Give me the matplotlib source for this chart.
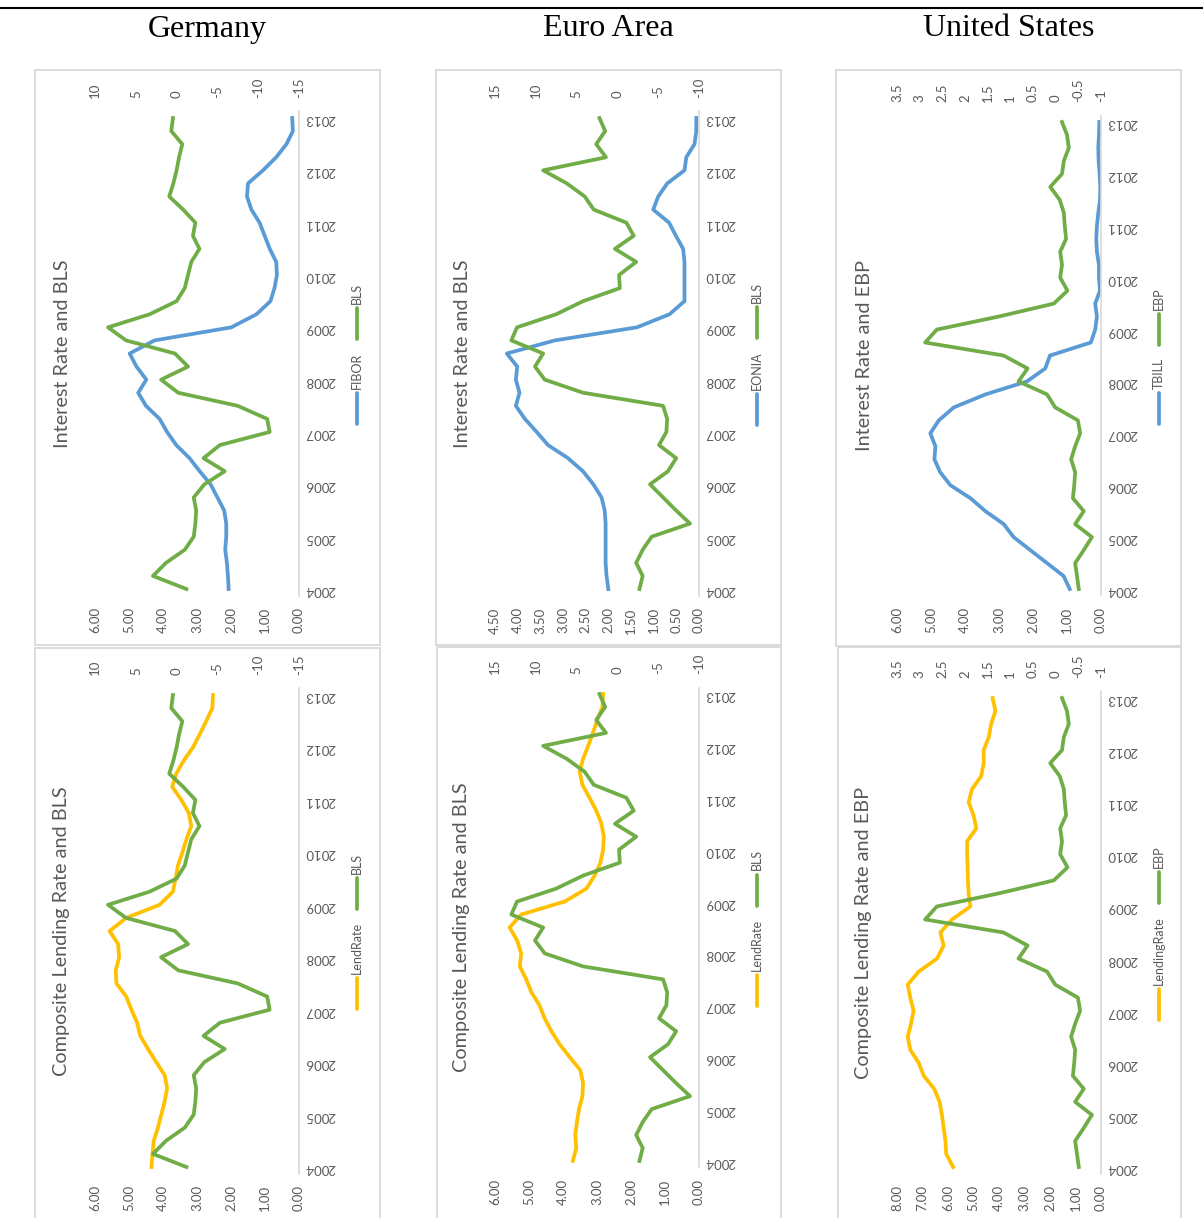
import matplotlib
matplotlib.use('Agg')
import numpy as np
import matplotlib.pyplot as plt
from matplotlib.lines import Line2D
from matplotlib.patches import Rectangle

# quarterly observations, 2004Q1 .. 2013Q1
quarters = list(range(37))
year_ticks = list(range(0, 37, 4))
year_labels = [str(y) for y in range(2004, 2014)]

# Germany
fibor = [2.07, 2.09, 2.12, 2.17, 2.14, 2.14, 2.20, 2.40, 2.60, 2.92, 3.22, 3.61, 3.88,
         4.10, 4.50, 4.73, 4.49, 4.78, 4.98, 4.25, 1.99, 1.25, 0.84, 0.72, 0.65, 0.67,
         0.86, 1.01, 1.16, 1.40, 1.53, 1.50, 1.06, 0.67, 0.37, 0.18, 0.20]
de_bls = [-1.2, 2.9, 1.3, -1.0, -2.1, -2.3, -2.4, -2.1, -3.4, -5.9, -3.3, -5.3, -11.4,
          -11.1, -7.5, -0.2, 1.9, -1.4, 0.2, 6.2, 8.4, 3.3, 0.0, -1.0, -1.4, -1.8,
          -2.8, -2.0, -2.3, -0.8, 0.9, 0.4, 0.0, -0.3, -0.7, 0.65, 0.45]
de_lend = [4.34, 4.31, 4.27, 4.15, 4.05, 3.95, 3.88, 3.95, 4.20, 4.44, 4.67, 4.76, 4.93,
           5.08, 5.37, 5.39, 5.29, 5.32, 5.57, 5.08, 4.10, 3.71, 3.63, 3.56, 3.43, 3.31,
           3.17, 3.24, 3.46, 3.73, 3.61, 3.39, 3.12, 2.92, 2.73, 2.55, 2.53]

# Euro Area
eonia = [2.00, 2.04, 2.06, 2.06, 2.06, 2.06, 2.08, 2.15, 2.33, 2.56, 2.89, 3.33, 3.58,
         3.84, 4.04, 3.96, 4.04, 4.01, 4.24, 3.18, 1.37, 0.65, 0.32, 0.32, 0.32, 0.32,
         0.35, 0.51, 0.66, 1.01, 0.90, 0.70, 0.32, 0.28, 0.10, 0.06, 0.06]
ea_bls = [-2.7, -3.1, -2.3, -3.1, -4.2, -8.9, -7.2, -5.6, -4.0, -6.2, -7.2, -5.1, -6.0,
          -6.1, -5.6, 4.2, 8.9, 10.1, 9.1, 13.0, 12.3, 7.5, 4.2, -0.3, -0.2, -2.3,
          0.3, -2.0, -1.1, 2.9, 4.0, 6.2, 9.1, 1.4, 2.6, 1.5, 2.2]
ea_lend = [3.71, 3.61, 3.64, 3.59, 3.53, 3.43, 3.41, 3.49, 3.80, 4.10, 4.34, 4.54, 4.69,
           4.93, 5.08, 5.27, 5.23, 5.35, 5.57, 5.23, 3.95, 3.31, 3.07, 2.90, 2.82, 2.80,
           2.87, 3.02, 3.22, 3.43, 3.51, 3.41, 3.26, 3.12, 2.99, 2.84, 2.82]

# United States
tbill = [0.92, 1.10, 1.59, 2.08, 2.57, 2.86, 3.40, 3.84, 4.43, 4.73, 4.90, 4.87, 5.02,
         4.77, 4.33, 3.40, 2.18, 1.64, 1.50, 0.30, 0.17, 0.12, 0.17, 0.03, 0.06, 0.06,
         0.12, 0.14, 0.12, 0.08, 0.03, 0.02, 0.04, 0.07, 0.08, 0.06, 0.05]
ebp = [-0.51, -0.47, -0.43, -0.62, -0.80, -0.43, -0.62, -0.38, -0.41, -0.43, -0.34,
       -0.43, -0.54, -0.49, 0.01, 0.19, 0.82, 0.62, 1.15, 2.88, 2.62, 1.26, 0.04, -0.26,
       -0.10, -0.14, -0.10, -0.23, -0.20, -0.18, -0.09, 0.12, -0.14, -0.18, -0.29,
       -0.25, -0.14]
us_lend = [5.80, 6.07, 6.10, 6.17, 6.24, 6.33, 6.54, 6.95, 7.15, 7.48, 7.58, 7.45, 7.35,
           7.48, 7.58, 7.15, 6.43, 6.17, 6.30, 5.84, 5.12, 5.19, 5.22, 5.23, 5.25, 5.25,
           4.89, 5.00, 5.19, 5.06, 4.70, 4.60, 4.60, 4.40, 4.31, 4.14, 4.25]

BLUE = '#5B9BD5'
GREEN = '#70AD47'
GOLD = '#FFC000'
GREY = '#595959'
FRAME = '#d9d9d9'

W, H = 1203, 1218
plt.rcParams['font.family'] = ['Lato', 'DejaVu Sans']

fig = plt.figure(figsize=(W / 100, H / 100), dpi=100)
renderer = fig.canvas.get_renderer()


def fx(px):
    return px / W


def fy(py):
    return 1 - py / H


def legend(x, yc, entries):
    # vertical legend: line sample then rotated label, reading bottom to top
    texts = [fig.text(fx(x), 0, name, rotation=90, fontsize=9, color=GREY,
                      ha='center', va='bottom') for name, _ in entries]
    lens = [t.get_window_extent(renderer).height for t in texts]
    seg, gap, sep = 31, 4, 13
    total = sum(seg + gap + l for l in lens) + sep * (len(entries) - 1)
    y = yc + total / 2
    for (name, color), t, l in zip(entries, texts, lens):
        fig.add_artist(Line2D([fx(x), fx(x)], [fy(y), fy(y - seg)], color=color, lw=2.7,
                              solid_capstyle='round', transform=fig.transFigure))
        y -= seg + gap
        t.set_position((fx(x), fy(y)))
        y -= l + sep


def panel(box, frame, title, s1, lim1, step1, s2, lim2, step2):
    x0, x1, ytop, ybot = box
    # frame around each chart
    fl, ft, fr, fb = frame
    fig.add_artist(Rectangle((fx(fl), fy(fb)), (fr - fl) / W, (fb - ft) / H, fill=False,
                             edgecolor=FRAME, lw=1.3, transform=fig.transFigure))

    step = (ybot - ytop) / 36
    ax = fig.add_axes([fx(x0), fy(ybot + step / 2), (x1 - x0) / W, (ybot - ytop + step) / H])
    ax.patch.set_visible(False)
    ax.plot(s1[1], quarters, color=s1[2], lw=2.7, solid_joinstyle='round')
    ax.set_xlim(lim1, 0)
    ax.set_ylim(-0.5, 36.5)
    ticks1 = np.arange(0, lim1 + 1e-9, step1)
    ax.set_xticks(ticks1)
    ax.set_xticklabels(['%.2f' % v for v in ticks1], rotation=90, fontsize=9.5, color=GREY)
    ax.tick_params(axis='x', length=0, pad=8.5)

    ax.yaxis.tick_right()
    ax.set_yticks(year_ticks)
    ax.set_yticklabels(year_labels, rotation=180, fontsize=9.5, color=GREY)
    ax.tick_params(axis='y', length=0, pad=4)
    for side in ['top', 'bottom', 'left']:
        ax.spines[side].set_visible(False)
    ax.spines['right'].set_color(FRAME)
    ax.spines['right'].set_linewidth(1.2)

    ax2 = ax.twiny()
    ax2.plot(s2[1], quarters, color=s2[2], lw=2.7, solid_joinstyle='round')
    ax2.set_xlim(lim2[0], lim2[1])
    ticks2 = np.arange(lim2[1], lim2[0] + 1e-9, step2)
    ax2.set_xticks(ticks2)
    ax2.set_xticklabels(['%g' % round(v, 1) for v in ticks2], rotation=90, fontsize=9.5,
                        color=GREY)
    ax2.tick_params(axis='x', length=0, pad=9.5)
    for side in ax2.spines:
        ax2.spines[side].set_visible(False)

    # chart title on the left, legend on the right
    yc = (ytop + ybot) / 2
    fig.text(fx(x0 - 33), fy(yc), title, rotation=90, fontsize=14.3, color=GREY,
             ha='center', va='center')
    legend(x1 + 58, yc, [(s1[0], s1[2]), (s2[0], s2[2])])


# table header
fig.add_artist(Line2D([0, 1], [fy(8), fy(8)], color='black', lw=1.5, transform=fig.transFigure))
for x, name in [(207, 'Germany'), (608, 'Euro Area'), (1009, 'United States')]:
    fig.text(fx(x), fy(29), name, family='Liberation Serif', fontsize=23, ha='center',
             va='center', color='black')

panel((95, 299, 118, 589), (35, 70, 380, 645), 'Interest Rate and BLS',
      ('FIBOR', fibor, BLUE), 6, 1, ('BLS', de_bls, GREEN), (10, -15), 5)
panel((95, 299, 695, 1167), (35, 648, 380, 1230), 'Composite Lending Rate and BLS',
      ('LendRate', de_lend, GOLD), 6, 1, ('BLS', de_bls, GREEN), (10, -15), 5)

panel((495, 699, 118, 589), (436, 70, 781, 645), 'Interest Rate and BLS',
      ('EONIA', eonia, BLUE), 4.5, 0.5, ('BLS', ea_bls, GREEN), (15, -10), 5)
panel((495, 699, 694, 1161), (437, 647, 781, 1230), 'Composite Lending Rate and BLS',
      ('LendRate', ea_lend, GOLD), 6, 1, ('BLS', ea_bls, GREEN), (15, -10), 5)

panel((897, 1101, 122, 589), (836, 70, 1181, 646), 'Interest Rate and EBP',
      ('TBILL', tbill, BLUE), 6, 1, ('EBP', ebp, GREEN), (3.5, -1), 0.5)
panel((897, 1101, 698, 1167), (838, 647, 1181, 1230), 'Composite Lending Rate and EBP',
      ('LendingRate', us_lend, GOLD), 8, 1, ('EBP', ebp, GREEN), (3.5, -1), 0.5)

fig.savefig('out.png', dpi=100)
